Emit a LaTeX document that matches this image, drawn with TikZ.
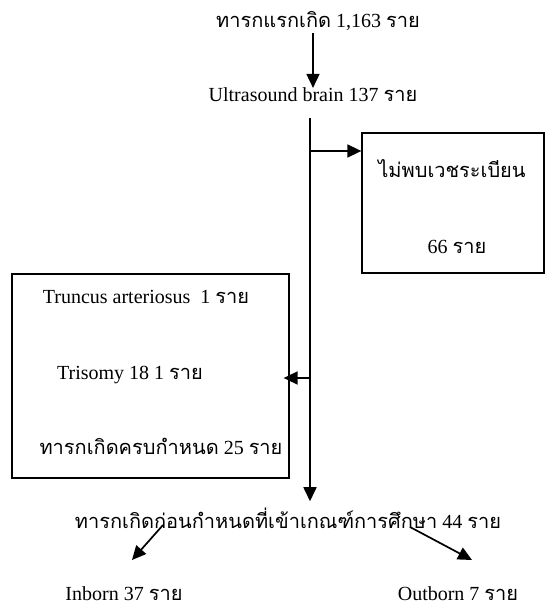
\documentclass[tikz,border=0pt]{standalone}
\usepackage{fontspec}
\setmainfont{Liberation Serif}
\newfontfamily\thai[Script=Thai]{Loma}
\usetikzlibrary{arrows.meta}

\newcommand\raai{{\thai ราย}}

\begin{document}
\begin{tikzpicture}[x=1pt,y=-1pt,font=\fontsize{20}{24}\selectfont,
  txt/.style={inner sep=0pt,anchor=base},
  box/.style={draw,line width=1.3pt},
  arr/.style={-{Triangle[length=14pt,width=13pt]},line width=1.7pt}]
\useasboundingbox (0,0) rectangle (548,609);
\node[txt] (born) at (318,28) {{\thai ทารกแรกเกิด} 1,163 \raai};
\node[txt] (us) at (313,102) {Ultrasound brain 137 \raai};
\draw[arr] ([yshift=-2pt]born.south -| us.north) -- (us.north);

% exclusions
\node[box,minimum width=182pt,minimum height=140pt] (nodoc) at (453,203) {};
\node[txt] (nodoc1) at (452,178) {\thai ไม่พบเวชระเบียน};
\node[txt] (nodoc2) at (457,253) {66 \raai};
\node[box,minimum width=277pt,minimum height=204pt] (excl) at (150.5,376) {};
\node[txt] (excl1) at (146,303) {Truncus arteriosus\ \ 1 \raai};
\node[txt] (excl2) at (130,379) {Trisomy 18 1 \raai};
\node[txt] (excl3) at (161,454) {{\thai ทารกเกิดครบกำหนด} 25 \raai};

\node[txt] (pre) at (288,528) {{\thai ทารกเกิดก่อนกำหนดที่เข้าเกณฑ์การศึกษา} 44 \raai};
\node[txt] (inb) at (124,600) {Inborn 37 \raai};
\node[txt] (outb) at (458,600) {Outborn 7 \raai};

\coordinate (top) at (310,118);
\coordinate (b1) at (310,151);
\coordinate (b2) at (310,378);
\draw[arr] (top) -- ([yshift=6pt]top |- pre.north);
\draw[arr] (b1) -- (b1 -| nodoc.west);
\draw[arr] (b2) -- ([xshift=-6pt]b2 -| excl.east);
\draw[arr] ([xshift=-125pt,yshift=3pt]pre.base) -- ([xshift=8pt,yshift=40pt]inb.base);
\draw[arr] ([xshift=122pt,yshift=1pt]pre.base) -- ([xshift=14pt,yshift=40pt]outb.base);
\end{tikzpicture}
\end{document}
